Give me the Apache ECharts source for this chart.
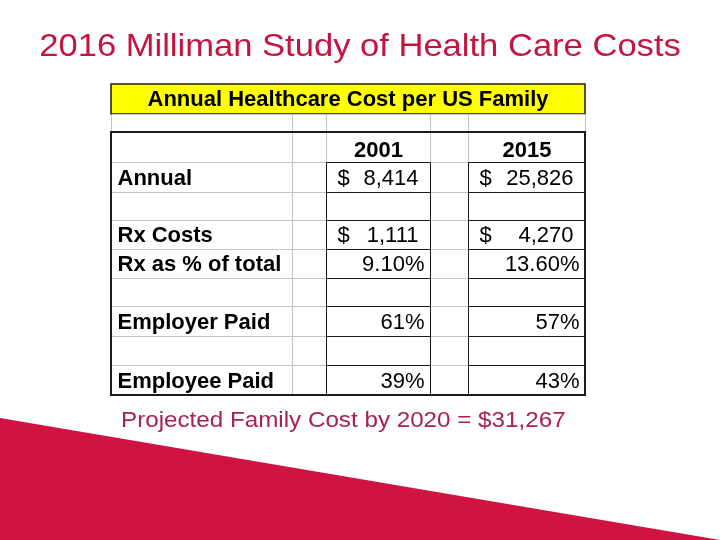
<!DOCTYPE html>
<html><head><meta charset="utf-8">
<script src="https://cdn.jsdelivr.net/npm/echarts@6/dist/echarts.min.js"></script>
<style>html,body{margin:0;padding:0;background:#fff}#c{width:720px;height:540px}</style>
</head><body><div id="c"></div>
<script>
// ---- data ----
const slideTitle = '2016 Milliman Study of Health Care Costs';
const tableTitle = 'Annual Healthcare Cost per US Family';
const years = ['2001', '2015'];
const rowLabels = ['Annual', '', 'Rx Costs', 'Rx as % of total', '', 'Employer Paid', '', 'Employee Paid'];
const values2001 = [8414, null, 1111, 9.10, null, 61, null, 39];
const values2015 = [25826, null, 4270, 13.60, null, 57, null, 43];
const rowFormats = ['money', '', 'money', 'pct2', '', 'pct0', '', 'pct0'];
const projectedNote = 'Projected Family Cost by 2020 = $31,267';

// ---- layout (table units = px inside grid) ----
const colEdges = [0, 181, 215, 319, 357, 474];
const rowEdges = [0, 30, 48, 78, 108, 136, 165, 194, 222, 252, 281, 311];
const FONT = "'Liberation Sans', Arial, Helvetica, sans-serif";
const GRAY = '#c4c4c4', BLACK = '#1a1a1a';

function fmt(v, f) {
  if (v === null || v === undefined) return null;
  if (f === 'money') return { dollar: '$', num: v.toLocaleString('en-US') };
  if (f === 'pct2') return { pct: v.toFixed(2) + '%' };
  return { pct: v.toFixed(0) + '%' };
}

const cells = [];
// yellow title row
cells.push({ c0: 0, c1: 5, r: 0, fill: '#ffff00', stroke: BLACK, lw: 1.5,
  texts: [{ text: tableTitle, pos: 'center', bold: true }] });
// blank spacer row
for (let c = 0; c < 5; c++) cells.push({ c0: c, c1: c + 1, r: 1, fill: null, stroke: GRAY, lw: 1, texts: [] });
// body: gray cells
const blackCells = [];
for (let r = 2; r < 11; r++) {
  const bi = r - 3; // body index into data arrays
  for (let c = 0; c < 5; c++) {
    const cell = { c0: c, c1: c + 1, r: r, fill: null, stroke: GRAY, lw: 1, texts: [] };
    if (c === 0 && bi >= 0 && rowLabels[bi]) cell.texts.push({ text: rowLabels[bi], pos: 'left', off: 6, bold: true });
    if ((c === 2 || c === 4) && r === 2) cell.texts.push({ text: years[c === 2 ? 0 : 1], pos: 'center', bold: true, dy: 2 });
    if ((c === 2 || c === 4) && bi >= 0) {
      const f = fmt(c === 2 ? values2001[bi] : values2015[bi], rowFormats[bi]);
      if (f && f.dollar) {
        cell.texts.push({ text: f.dollar, pos: 'left', off: 11 });
        cell.texts.push({ text: f.num, pos: 'right', off: 12 });
      } else if (f) {
        cell.texts.push({ text: f.pct, pos: 'right', off: 6 });
      }
      cell.stroke = BLACK;
      blackCells.push(cell);
    } else {
      cells.push(cell);
    }
  }
}
blackCells.forEach(c => cells.push(c));
// outer border
cells.push({ c0: 0, c1: 5, r: 2, r1: 11, fill: null, stroke: BLACK, lw: 2, texts: [] });

const seriesData = cells.map(c => [colEdges[c.c0], colEdges[c.c1], rowEdges[c.r], rowEdges[c.r1 !== undefined ? c.r1 : c.r + 1]]);

function renderItem(params, api) {
  const c = cells[params.dataIndex];
  const p0 = api.coord([api.value(0), api.value(2)]);
  const p1 = api.coord([api.value(1), api.value(3)]);
  const o = c.lw === 1 ? 0.5 : 0;
  const x0 = Math.round(p0[0]) + o, y0 = Math.round(p0[1]) + o;
  const x1 = Math.round(p1[0]) + o, y1 = Math.round(p1[1]) + o;
  const children = [{
    type: 'rect', shape: { x: x0, y: y0, width: x1 - x0, height: y1 - y0 },
    style: { fill: c.fill || 'none', stroke: c.stroke, lineWidth: c.lw }
  }];
  const cy = (y0 + y1) / 2 + 1;
  c.texts.forEach(t => {
    let x, align;
    if (t.pos === 'left') { x = x0 + (t.off || 0); align = 'left'; }
    else if (t.pos === 'right') { x = x1 - (t.off || 0); align = 'right'; }
    else { x = (x0 + x1) / 2; align = 'center'; }
    children.push({
      type: 'text', x: x, y: cy + (t.dy || 0),
      style: { text: t.text, fill: '#000', font: (t.bold ? 'bold ' : '') + '22px ' + FONT,
        align: align, verticalAlign: 'middle' }
    });
  });
  return { type: 'group', children: children };
}

const chart = echarts.init(document.getElementById('c'), null, { renderer: 'canvas' });
chart.setOption({
  backgroundColor: '#ffffff',
  animation: false,
  grid: { left: 111, top: 84, width: 474, height: 311 },
  xAxis: { type: 'value', min: 0, max: 474, show: false },
  yAxis: { type: 'value', min: 0, max: 311, inverse: true, show: false },
  graphic: [
    { type: 'polygon', shape: { points: [[0, 418], [720, 540], [0, 540]] },
      style: { fill: '#cf1442' }, z: 0 },
    { type: 'text', x: 360, y: 47, scaleX: 1.08,
      style: { text: slideTitle, fill: '#c4143f', font: '32px ' + FONT, align: 'center', verticalAlign: 'middle' } },
    { type: 'text', x: 121, y: 421, scaleX: 1.1,
      style: { text: projectedNote, fill: '#a8224f', font: '22px ' + FONT, align: 'left', verticalAlign: 'middle' } }
  ],
  series: [{
    type: 'custom', renderItem: renderItem, data: seriesData,
    encode: { x: [0, 1], y: [2, 3] }, silent: true, clip: false
  }]
});
</script></body></html>
